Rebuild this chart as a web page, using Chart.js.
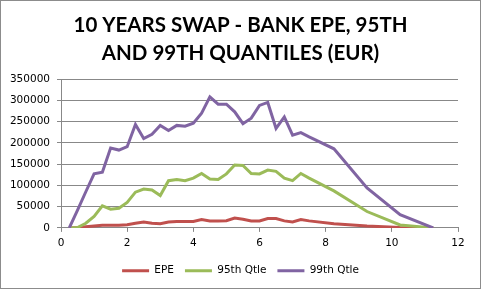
<!DOCTYPE html>
<html><head><meta charset="utf-8">
<script src="https://cdn.jsdelivr.net/npm/chart.js@4"></script>
<style>html,body{margin:0;padding:0;background:#fff;}#wrap{width:481px;height:289px;position:relative;}</style>
</head><body><div id="wrap"><canvas id="c" width="481" height="289"></canvas></div>
<script>
const titleLines = ["10 YEARS SWAP - BANK EPE, 95TH", "AND 99TH QUANTILES (EUR)"];
const seriesNames = ["EPE", "95th Qtle", "99th Qtle"];
const years = [0.25,0.5,0.75,1.0,1.25,1.5,1.75,2.0,2.25,2.5,2.75,3.0,3.25,3.5,3.75,4.0,4.25,4.5,4.75,5.0,5.25,5.5,5.75,6.0,6.25,6.5,6.75,7.0,7.25,7.5,8.25,9.25,10.25,11.25];
const epe = [0,1000,3000,4700,6000,6500,6500,7500,11000,14000,11000,10000,14000,15000,15000,15000,19500,16500,16500,17000,23000,20500,16500,16500,22000,22000,16500,14000,19500,16500,10000,4500,800,0];
const q95 = [0,1000,11000,27000,52000,44000,46000,60000,84000,91500,89000,76000,111000,114000,111000,117000,128000,115000,114000,127000,148000,147000,128000,127000,136000,133000,117000,111000,128000,117000,87000,38500,7000,0];
const q99 = [0,42000,85000,127000,131000,188000,183000,191000,243000,210000,220000,241000,229000,241000,239000,246000,270000,308000,291000,291000,273000,245000,258000,288000,295000,234000,261000,218000,224000,214000,186000,94000,31000,0];
const colors = ["#C0504D", "#9BBB59", "#8064A2"];
const xTicks = [0,2,4,6,8,10,12];
const yTicks = [0,50000,100000,150000,200000,250000,300000,350000];

const seriesValues = [epe, q95, q99];
const datasets = seriesValues.map((vals, i) => ({
  label: seriesNames[i],
  data: vals.map((v, j) => ({x: years[j], y: v})),
  borderColor: colors[i],
  backgroundColor: colors[i],
  borderWidth: 3,
  pointRadius: 0,
  tension: 0,
  showLine: true,
  order: 3 - i
}));

const borderPlugin = {
  id: 'outerBorder',
  afterDraw(chart) {
    const ctx = chart.ctx;
    ctx.save();
    ctx.strokeStyle = '#8c8c8c';
    ctx.lineWidth = 1;
    ctx.strokeRect(0.5, 0.5, chart.width - 1, chart.height - 1);
    ctx.restore();
  }
};

new Chart(document.getElementById('c'), {
  type: 'scatter',
  data: { datasets },
  plugins: [borderPlugin],
  options: {
    responsive: false,
    animation: false,
    devicePixelRatio: 1,
    layout: { padding: { left: 0, right: 0, top: 0, bottom: 3 } },
    plugins: {
      tooltip: { enabled: false },
      title: {
        display: true,
        text: titleLines,
        color: '#000',
        font: { family: 'Lato', weight: 'bold', size: 20.5, lineHeight: 1.367 },
        padding: { top: 11, bottom: 12 }
      },
      legend: {
        position: 'bottom',
        labels: {
          color: '#000',
          font: { family: 'DejaVu Sans', size: 10.5 },
          boxWidth: 27,
          boxHeight: 3,
          padding: 11,
          generateLabels(chart) {
            const items = Chart.defaults.plugins.legend.labels.generateLabels(chart);
            items.forEach(it => { it.lineWidth = 0; });
            items.sort((a, b) => a.datasetIndex - b.datasetIndex);
            return items;
          }
        }
      }
    },
    scales: {
      x: {
        type: 'linear',
        min: 0, max: 12,
        afterBuildTicks(scale) { scale.ticks = xTicks.map(v => ({value: v})); },
        ticks: { color: '#000', font: { family: 'DejaVu Sans', size: 10.5 }, padding: 5, maxRotation: 0 },
        grid: { display: true, drawOnChartArea: false, drawTicks: true, tickLength: 4, color: '#888', tickColor: '#888' },
        border: { display: true, color: '#888', width: 1 }
      },
      y: {
        min: 0, max: 350000,
        afterBuildTicks(scale) { scale.ticks = yTicks.map(v => ({value: v})); },
        afterFit(scale) { scale.width = 61; },
        ticks: { color: '#000', font: { family: 'DejaVu Sans', size: 10.5 }, padding: 7, callback: v => String(v) },
        grid: { color: '#888', tickColor: '#888', drawTicks: true, tickLength: 4, lineWidth: 1 },
        border: { display: true, color: '#888', width: 1 }
      },
      yRight: {
        type: 'linear',
        position: 'right',
        min: 0, max: 1,
        afterFit(scale) { scale.width = 23; },
        ticks: { display: false },
        grid: { display: false, drawTicks: false },
        border: { display: false }
      }
    }
  }
});
</script></body></html>
